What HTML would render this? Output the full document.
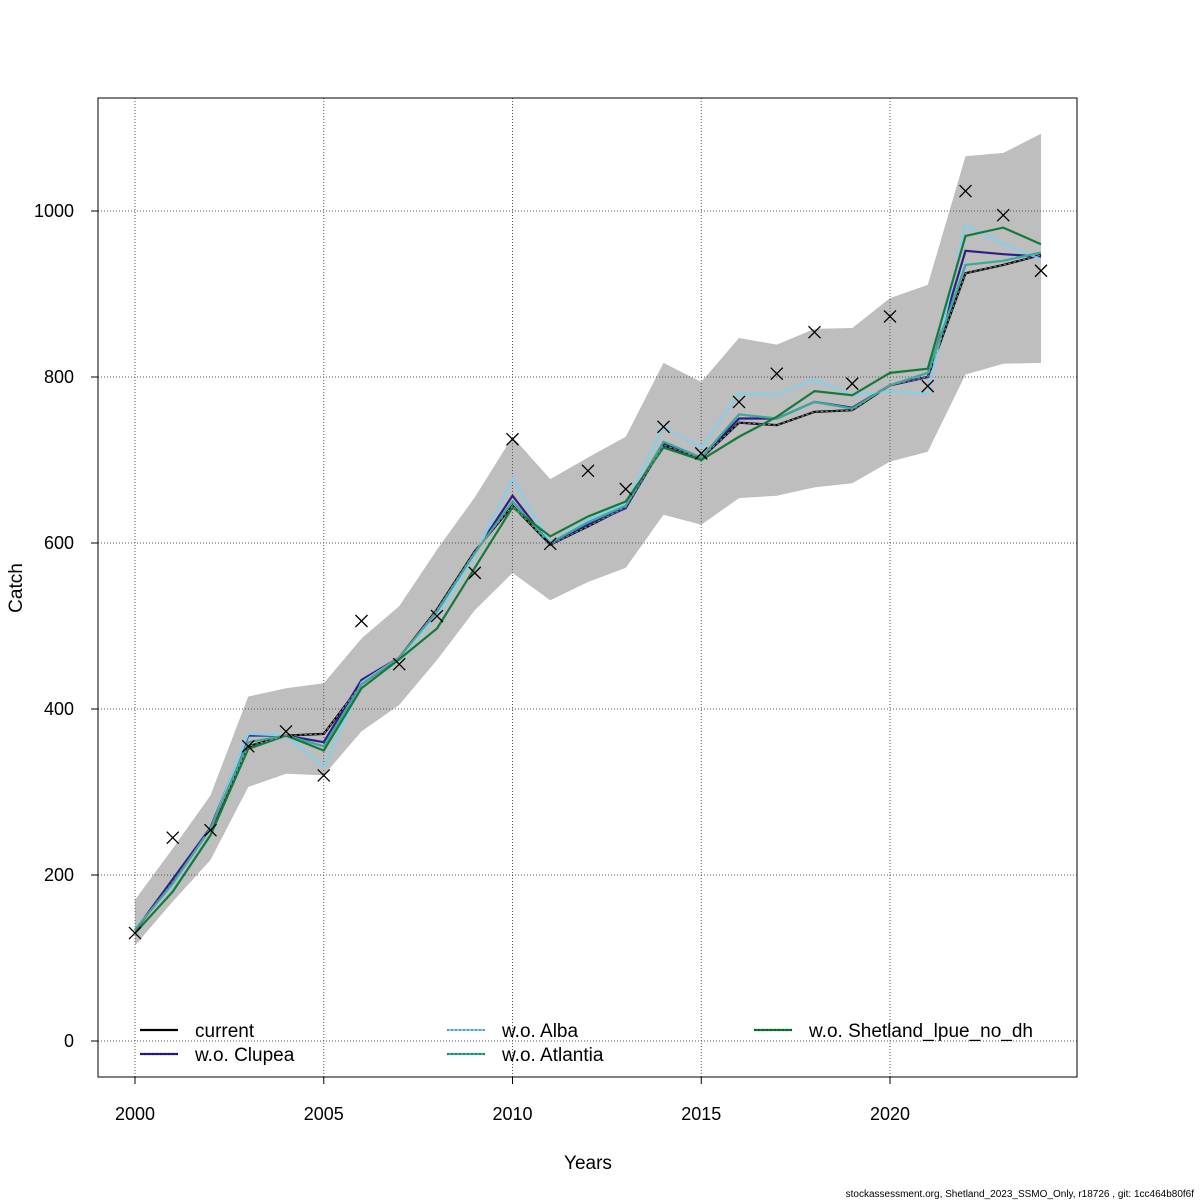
<!DOCTYPE html>
<html><head><meta charset="utf-8"><style>
html,body{margin:0;padding:0;background:#fff;}
svg{display:block;font-family:"Liberation Sans",sans-serif;}
</style></head><body>
<svg id="chart" width="1200" height="1200" viewBox="0 0 1200 1200">
<rect x="0" y="0" width="1200" height="1200" fill="#fff"/>
<g id="band"></g>
<g id="grid"></g>
<g id="series"></g>
<g id="points"></g>
<rect x="98" y="98" width="979" height="979" fill="none" stroke="#000" stroke-width="1"/>
<g id="axes"></g>
<text x="588" y="1169" font-size="19" text-anchor="middle">Years</text>
<text x="22" y="588" font-size="19" text-anchor="middle" transform="rotate(-90 22 588)">Catch</text>
<text x="1194" y="1197" font-size="10" text-anchor="end">stockassessment.org, Shetland_2023_SSMO_Only, r18726 , git: 1cc464b80f6f</text>
<g id="legend"></g>
</svg>
<script>
const years = [2000,2001,2002,2003,2004,2005,2006,2007,2008,2009,2010,2011,2012,2013,2014,2015,2016,2017,2018,2019,2020,2021,2022,2023,2024];
const observed = [130,245,254,355,373,320,506,454,512,564,725,599,687,665,740,708,770,804,854,792,873,789,1024,995,928];
const bandUpper = [170,232,296,415,425,431,485,524,592,655,728,677,703,728,817,794,847,839,858,859,895,911,1066,1070,1093];
const bandLower = [115,168,218,306,322,320,373,405,459,519,564,531,553,570,634,622,654,657,667,672,698,710,803,816,817];
const current = [133,192,255,355,368,370,430,462,520,590,645,598,620,643,718,702,745,742,758,760,790,800,925,935,947];
const woClupea = [133,195,257,368,368,360,435,462,518,588,657,598,622,642,720,702,750,750,770,763,790,800,952,948,945];
const woAlba = [135,188,255,370,368,330,432,462,512,585,678,600,628,648,740,715,780,779,797,778,783,780,983,960,942];
const woAtlantia = [134,190,256,360,368,355,430,462,518,588,650,600,625,645,722,703,755,750,770,762,790,805,935,940,950];
const woShetland = [130,180,248,352,368,350,425,460,497,570,643,608,632,650,715,700,728,752,783,778,805,810,970,980,960];
const xTicks = [2000,2005,2010,2015,2020];
const yTicks = [0,200,400,600,800,1000];

const NS = "http://www.w3.org/2000/svg";
function X(yr){return 135 + (yr-2000)*37.75;}
function Y(v){return 1041 - v*0.83;}
function mk(tag, attrs, parent){const e=document.createElementNS(NS,tag);for(const k in attrs)e.setAttribute(k,attrs[k]);parent.appendChild(e);return e;}

// band
const bandG=document.getElementById('band');
let pts=years.map((y,i)=>X(y)+','+Y(bandUpper[i]));
for(let i=years.length-1;i>=0;i--)pts.push(X(years[i])+','+Y(bandLower[i]));
const poly=mk('polygon',{points:pts.join(' '),fill:'#bebebe'},bandG);



// grid
const gridG=document.getElementById('grid');
xTicks.forEach(t=>{const l=mk('line',{x1:X(t),x2:X(t),y1:98,y2:1077,stroke:'#555','stroke-width':1,'stroke-dasharray':'1,2'},gridG);

});
yTicks.forEach(t=>{const l=mk('line',{x1:98,x2:1077,y1:Y(t),y2:Y(t),stroke:'#555','stroke-width':1,'stroke-dasharray':'1,2'},gridG);

});

// series
const seriesG=document.getElementById('series');
const seriesDefs=[
 {name:'current',data:current,color:'#000',dash:null,label:'current'},
 {name:'wo-clupea',data:woClupea,color:'#2d1e8c',dash:null,label:'w.o. Clupea'},
 {name:'wo-alba',data:woAlba,color:'#87ceeb',dash:null,label:'w.o. Alba'},
 {name:'wo-atlantia',data:woAtlantia,color:'#3aa99b',dash:null,label:'w.o. Atlantia'},
 {name:'wo-shetland',data:woShetland,color:'#137a3a',dash:null,label:'w.o. Shetland_lpue_no_dh'}
];
function linePts(d){return years.map((y,i)=>X(y)+','+Y(d[i])).join(' ');}
seriesDefs.forEach(s=>{
 const p=mk('polyline',{points:linePts(s.data),fill:'none',stroke:s.color,'stroke-width':2.2},seriesG);
 
 
});
// dashed overlay for current
const dl=mk('polyline',{points:linePts(current),fill:'none',stroke:'#888','stroke-width':1,'stroke-dasharray':'3,2'},seriesG);



// points
const ptG=document.getElementById('points');
years.forEach((y,i)=>{const cx=X(y),cy=Y(observed[i]),r=6;
 const g=mk('path',{d:`M${cx-r},${cy-r}L${cx+r},${cy+r}M${cx-r},${cy+r}L${cx+r},${cy-r}`,stroke:'#000','stroke-width':1.3,fill:'none'},ptG);
 
 
});

// axes
const axG=document.getElementById('axes');
const xa=mk('line',{x1:X(2000),x2:X(2020),y1:1077,y2:1077,stroke:'#000'},axG);


xTicks.forEach(t=>{
 const tk=mk('line',{x1:X(t),x2:X(t),y1:1077,y2:1084,stroke:'#000'},axG);
 
 
 const tx=mk('text',{x:X(t),y:1120,'font-size':18,'text-anchor':'middle'},axG);tx.textContent=t;
 
 
});
yTicks.forEach(t=>{
 const tk=mk('line',{x1:91,x2:98,y1:Y(t),y2:Y(t),stroke:'#000'},axG);
 
 
 const tx=mk('text',{x:74,y:Y(t)+6,'font-size':18,'text-anchor':'end'},axG);tx.textContent=t;
 
 
});

// legend
const lg=document.getElementById('legend');
const legPos=[[140,1030],[140,1054],[447,1030],[447,1054],[754,1030]];
seriesDefs.forEach((s,i)=>{const [lx,ly]=legPos[i];
 const l=mk('line',{x1:lx,x2:lx+38,y1:ly,y2:ly,stroke:s.color,'stroke-width':2.2},lg);
 
 
 if(i>0){const d=mk('line',{x1:lx,x2:lx+38,y1:ly,y2:ly,stroke:'#000','stroke-width':1,'stroke-dasharray':'2,2','stroke-opacity':0.5},lg);
  
  }
 const t=mk('text',{x:lx+55,y:ly+7,'font-size':19},lg);t.textContent=s.label;
 
 
});
</script>
</body></html>
